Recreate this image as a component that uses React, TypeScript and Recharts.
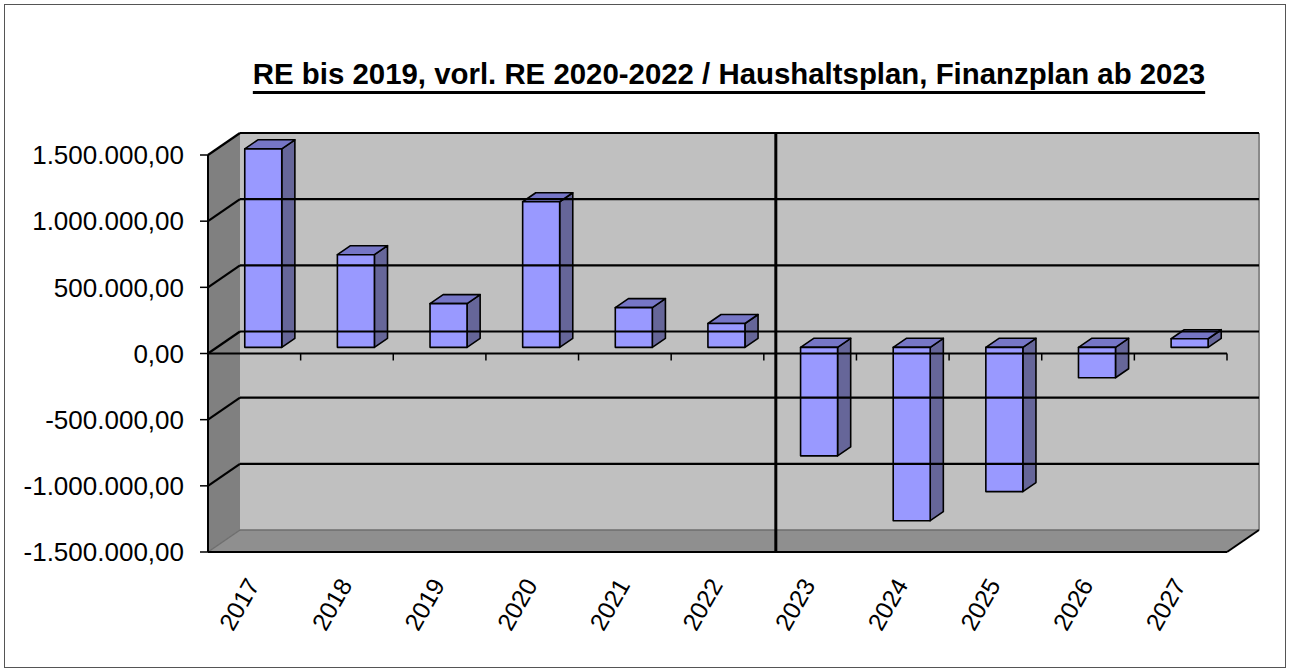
import React from 'react';
import { BarChart, Bar, XAxis, YAxis, ReferenceArea, ReferenceLine } from 'recharts';

const years = ['2017', '2018', '2019', '2020', '2021', '2022', '2023', '2024', '2025', '2026', '2027'];
const values = [1500000, 700000, 330000, 1100000, 300000, 180000, -820000, -1310000, -1090000, -230000, 65000];
const yTicks = [-1500000, -1000000, -500000, 0, 500000, 1000000, 1500000];
const yMin = -1500000;
const yMax = 1500000;
const splitYear = '2023';
const title = 'RE bis 2019, vorl. RE 2020-2022 / Haushaltsplan, Finanzplan ab 2023';

const data = years.map((year, i) => ({ year, value: values[i] }));

// depth of the fake 3d box (back wall offset) and where the bars sit in it
const DX = 32;
const DY = -22;
const BAR_OFF = 0.28;
const BAR_DEPTH = 0.41;
const FONT = '"Liberation Sans", Arial, sans-serif';

const fmt = (v: number) => {
  const s = Math.abs(Math.round(v)).toString().replace(/\B(?=(\d{3})+(?!\d))/g, '.');
  return (v < 0 ? '-' : '') + s + ',00';
};

const Walls = (p: any) => {
  const { x, y, width, height } = p;
  const r = x + width;
  const b = y + height;
  return (
    <g>
      <polygon points={`${x},${y} ${x + DX},${y + DY} ${x + DX},${b + DY} ${x},${b}`} fill="#808080" />
      <rect x={x + DX} y={y + DY} width={width} height={height} fill="#c0c0c0" />
      <line x1={r + DX} y1={y + DY} x2={r + DX} y2={b + DY} stroke="#8a8a8a" strokeWidth={2} />
      <polygon points={`${x},${b} ${x + DX},${b + DY} ${r + DX},${b + DY} ${r},${b}`} fill="#8f8f8f" />
      <line x1={x} y1={b} x2={x + DX} y2={b + DY} stroke="#6e6e6e" strokeWidth={1.5} />
      <line x1={x + DX} y1={b + DY} x2={r + DX} y2={b + DY} stroke="#6e6e6e" strokeWidth={1.5} />
      <line x1={r} y1={b} x2={r + DX} y2={b + DY} stroke="#000" strokeWidth={2} />
    </g>
  );
};

const GridLine = (p: any) => {
  const x1 = Math.min(p.x1, p.x2);
  const x2 = Math.max(p.x1, p.x2);
  const y = p.y1;
  return (
    <g>
      <line x1={x1} y1={y} x2={x1 + DX} y2={y + DY} stroke="#000" strokeWidth={2.2} />
      <line x1={x1 + DX} y1={y + DY} x2={x2 + DX} y2={y + DY} stroke="#000" strokeWidth={2.2} />
    </g>
  );
};

const ZeroAxis = (p: any) => {
  const x1 = Math.min(p.x1, p.x2);
  const x2 = Math.max(p.x1, p.x2);
  const y = p.y1;
  const step = (x2 - x1) / years.length;
  return (
    <g>
      <line x1={x1} y1={y} x2={x2} y2={y} stroke="#000" strokeWidth={2} />
      {years.map((_, i) => (
        <line key={i} x1={x1 + step * (i + 1)} y1={y} x2={x1 + step * (i + 1)} y2={y + 7} stroke="#000" strokeWidth={1.5} />
      ))}
    </g>
  );
};

const Separator = (p: any) => {
  const x = p.x1 + 12;
  const top = Math.min(p.y1, p.y2);
  const bottom = Math.max(p.y1, p.y2);
  return <line x1={x} y1={top + DY} x2={x} y2={bottom} stroke="#000" strokeWidth={3} />;
};

const Bar3D = (p: any) => {
  const { x, y, width, height } = p;
  if (width == null || height == null) return null;
  const top = Math.min(y, y + height);
  const h = Math.abs(height);
  const fx = x + DX * BAR_OFF;
  const fy = top + DY * BAR_OFF;
  const dx = DX * BAR_DEPTH;
  const dy = DY * BAR_DEPTH;
  const st = { stroke: '#000', strokeWidth: 1.6, strokeLinejoin: 'round' as const };
  return (
    <g>
      <polygon
        points={`${fx + width},${fy} ${fx + width + dx},${fy + dy} ${fx + width + dx},${fy + h + dy} ${fx + width},${fy + h}`}
        fill="#666699"
        {...st}
      />
      <polygon
        points={`${fx},${fy} ${fx + dx},${fy + dy} ${fx + width + dx},${fy + dy} ${fx + width},${fy}`}
        fill="#7676c6"
        {...st}
      />
      <rect x={fx} y={fy} width={width} height={h} fill="#9999ff" {...st} />
    </g>
  );
};

const YearTick = (p: any) => {
  const { x, y, payload } = p;
  const ax = x + 6;
  const ay = y + 33;
  return (
    <text x={ax} y={ay} textAnchor="end" transform={`rotate(-60, ${ax}, ${ay})`} fontSize={24.5} fontFamily={FONT} fill="#000">
      {payload.value}
    </text>
  );
};

export default function App() {
  return (
    <div style={{ position: 'absolute', left: 0, top: 0, width: 1290, height: 671, background: '#fff', fontFamily: FONT }}>
      <div style={{ position: 'absolute', left: 4, top: 4, width: 1280, height: 662, border: '1px solid #555' }} />
      <div
        style={{
          position: 'absolute',
          left: 168,
          width: 1122,
          top: 59,
          textAlign: 'center',
          fontSize: 29.4,
          lineHeight: '29px',
          fontWeight: 'bold',
          textDecoration: 'underline',
          textUnderlineOffset: '7px',
          textDecorationThickness: '2.5px',
          color: '#000',
        }}
      >
        {title}
      </div>
      <div style={{ position: 'absolute', left: 0, top: 0 }}>
        <BarChart width={1290} height={671} data={data} margin={{ top: 155, right: 63, bottom: 59, left: 0 }} barCategoryGap="30%">
          <ReferenceArea y1={yMin} y2={yMax} shape={<Walls />} isAnimationActive={false} />
          {yTicks
            .filter((v) => v > yMin)
            .map((v) => (
              <ReferenceLine key={v} y={v} shape={<GridLine />} />
            ))}
          <ReferenceLine y={0} shape={<ZeroAxis />} />
          <XAxis
            dataKey="year"
            interval={0}
            height={60}
            tickLine={false}
            tickSize={0}
            tickMargin={0}
            axisLine={{ stroke: '#000', strokeWidth: 2 }}
            tick={<YearTick />}
          />
          <YAxis
            domain={[yMin, yMax]}
            ticks={yTicks}
            width={208}
            tickSize={8}
            tickMargin={16}
            tickFormatter={fmt}
            axisLine={{ stroke: '#000', strokeWidth: 2 }}
            tickLine={{ stroke: '#000', strokeWidth: 1.5 }}
            tick={{ fill: '#000', fontSize: 26, fontFamily: FONT }}
          />
          <ReferenceLine x={splitYear} position="start" shape={<Separator />} />
          <Bar dataKey="value" shape={<Bar3D />} isAnimationActive={false} />
        </BarChart>
      </div>
    </div>
  );
}
